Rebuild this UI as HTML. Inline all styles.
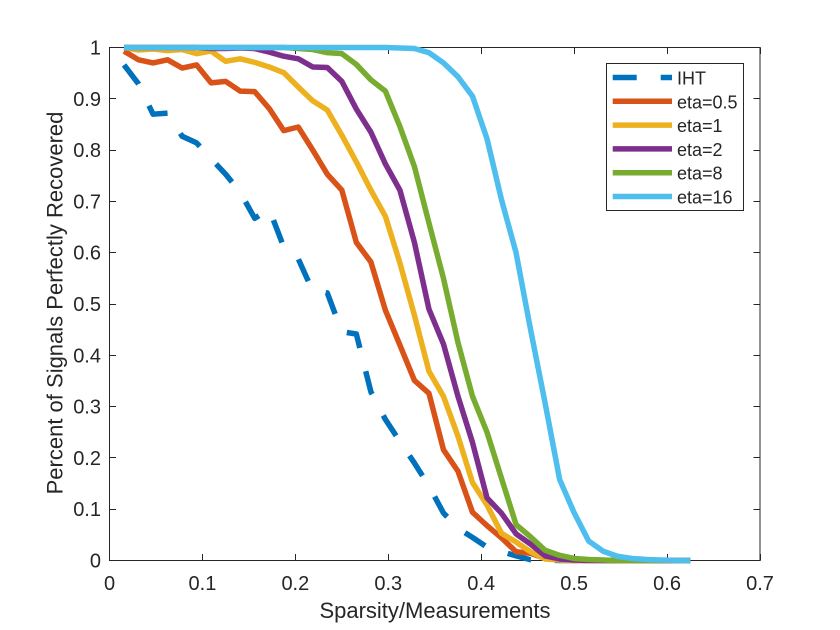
<!DOCTYPE html>
<html lang="en">
<head>
<meta charset="utf-8">
<title>Percent of Signals Perfectly Recovered</title>
<style>
html,body{margin:0;padding:0;background:#fff;}
body{width:840px;height:630px;overflow:hidden;}
svg{display:block;font-family:"Liberation Sans",Arial,sans-serif;}
</style>
</head>
<body>
<svg id="chart" width="840" height="630" viewBox="0 0 840 630" xmlns="http://www.w3.org/2000/svg"></svg>
<script>
var xValues = [];
for (var k = 1; k <= 40; k++) { xValues.push(k / 64); }

var seriesNames = ['IHT', 'eta=0.5', 'eta=1', 'eta=2', 'eta=8', 'eta=16'];
var seriesIHT = [0.966,0.929,0.87,0.872,0.827,0.814,0.783,0.753,0.718,0.667,0.685,0.611,0.588,0.525,0.5215,0.446,0.4415,0.329,0.275,0.232,0.19,0.145,0.0926,0.063,0.045,0.026,0.0175,0.009,0.0015,0.001,0,0,0,0,0,0,0,0,0,0];
var seriesEta05 = [0.993,0.976,0.97,0.976,0.96,0.966,0.931,0.934,0.915,0.914,0.881,0.838,0.845,0.8,0.753,0.722,0.62,0.582,0.488,0.42,0.351,0.326,0.216,0.174,0.094,0.068,0.044,0.017,0.014,0.004,0.002,0,0,0,0,0,0,0,0,0];
var seriesEta1 = [1,0.995,0.997,0.994,0.996,0.988,0.993,0.973,0.978,0.971,0.962,0.951,0.923,0.896,0.878,0.829,0.777,0.722,0.671,0.58,0.478,0.369,0.32,0.242,0.152,0.108,0.053,0.036,0.017,0.003,0.001,0,0,0,0,0,0,0,0,0];
var seriesEta2 = [1,1,1,1,1,1,0.998,0.998,0.999,0.998,0.991,0.983,0.978,0.962,0.961,0.934,0.88,0.835,0.773,0.722,0.62,0.49,0.422,0.32,0.23,0.122,0.092,0.052,0.032,0.009,0.003,0.001,0,0,0,0,0,0,0,0];
var seriesEta8 = [1,1,1,1,1,1,1,1,1,1,1,1,0.998,0.996,0.99,0.988,0.967,0.937,0.915,0.846,0.768,0.658,0.55,0.425,0.32,0.25,0.16,0.07,0.046,0.02,0.01,0.004,0.002,0.001,0,0,0,0,0,0];
var seriesEta16 = [1,1,1,1,1,1,1,1,1,1,1,1,1,1,1,1,1,1,1,0.999,0.998,0.99,0.97,0.943,0.905,0.822,0.703,0.6,0.45,0.307,0.158,0.093,0.038,0.018,0.008,0.004,0.002,0.001,0,0];

var xTickValues = [0, 0.1, 0.2, 0.3, 0.4, 0.5, 0.6, 0.7];
var xTickLabels = ['0', '0.1', '0.2', '0.3', '0.4', '0.5', '0.6', '0.7'];
var yTickValues = [0, 0.1, 0.2, 0.3, 0.4, 0.5, 0.6, 0.7, 0.8, 0.9, 1];
var yTickLabels = ['0', '0.1', '0.2', '0.3', '0.4', '0.5', '0.6', '0.7', '0.8', '0.9', '1'];

var SVG_NS = 'http://www.w3.org/2000/svg';
var svg = document.getElementById('chart');
var AXIS = '#262626';
var left = 109.5, right = 760, top0 = 47.5, bottom = 560.5;
var xMax = 0.7, yMax = 1;

function xScale(v) { return left + (v / xMax) * (right - left); }
function yScale(v) { return bottom - (v / yMax) * (bottom - top0); }

function make(tag, attrs, parent) {
  var el = document.createElementNS(SVG_NS, tag);
  for (var key in attrs) { el.setAttribute(key, attrs[key]); }
  (parent || svg).appendChild(el);
  return el;
}

var plotBg = make('rect', {x: left, y: top0, width: right - left, height: bottom - top0, fill: '#fff'});



var axisGroup = make('g', {stroke: AXIS, 'stroke-width': 1, fill: 'none'});



var frame = make('rect', {x: left, y: top0, width: right - left, height: bottom - top0}, axisGroup);



xTickValues.forEach(function (v, i) {
  var x = Math.round(xScale(v) - 0.5) + 0.5;
  var tickBottom = make('line', {x1: x, x2: x, y1: bottom, y2: bottom - 6.5}, axisGroup);
  
  
  var tickTop = make('line', {x1: x, x2: x, y1: top0, y2: top0 + 6.5}, axisGroup);
  
  
  var label = make('text', {x: xScale(v), y: 590, 'text-anchor': 'middle', 'font-size': 20, fill: AXIS});
  
  
  label.textContent = xTickLabels[i];
});

yTickValues.forEach(function (v, i) {
  var y = Math.round(yScale(v) - 0.5) + 0.5;
  var tickLeft = make('line', {x1: left, x2: left + 6.5, y1: y, y2: y}, axisGroup);
  
  
  var tickRight = make('line', {x1: right, x2: right - 6.5, y1: y, y2: y}, axisGroup);
  
  
  var label = make('text', {x: 101, y: yScale(v) + 7, 'text-anchor': 'end', 'font-size': 20, fill: AXIS});
  
  
  label.textContent = yTickLabels[i];
});

var xTitle = make('text', {x: 435, y: 618, 'text-anchor': 'middle', 'font-size': 22, fill: AXIS});


xTitle.textContent = 'Sparsity/Measurements';

var yTitle = make('text', {x: 0, y: 0, transform: 'translate(62.5 303) rotate(-90)', 'text-anchor': 'middle', 'font-size': 22, fill: AXIS});


yTitle.textContent = 'Percent of Signals Perfectly Recovered';

var allSeries = [seriesIHT, seriesEta05, seriesEta1, seriesEta2, seriesEta8, seriesEta16];
var colors = ['#0072BD', '#D95319', '#EDB120', '#7E2F8E', '#77AC30', '#4DBEEE'];
var lineWidth = 5.5;
var dash = '24 24';

allSeries.forEach(function (vals, s) {
  var d = vals.map(function (v, i) {
    return (i ? 'L' : 'M') + xScale(xValues[i]).toFixed(2) + ' ' + yScale(v).toFixed(2);
  }).join(' ');
  var path = make('path', {d: d, fill: 'none', stroke: colors[s], 'stroke-width': lineWidth, 'stroke-linejoin': 'round'});
  
  
  path.setAttribute('data-series', seriesNames[s]);
  if (s === 0) { path.setAttribute('stroke-dasharray', dash); }
});

var legend = make('g', {});



var legendBox = make('rect', {x: 606.5, y: 63.5, width: 137, height: 147, fill: '#fff', stroke: AXIS, 'stroke-width': 1}, legend);



seriesNames.forEach(function (name, s) {
  var rowY = 77.5 + s * 23.8;
  var swatch = make('line', {x1: 612.7, x2: 672, y1: rowY, y2: rowY, stroke: colors[s], 'stroke-width': lineWidth}, legend);
  
  
  if (s === 0) { swatch.setAttribute('stroke-dasharray', dash); }
  var text = make('text', {x: 677, y: rowY + 7, 'font-size': 18, fill: AXIS}, legend);
  
  
  text.textContent = name;
});
</script>
</body>
</html>
